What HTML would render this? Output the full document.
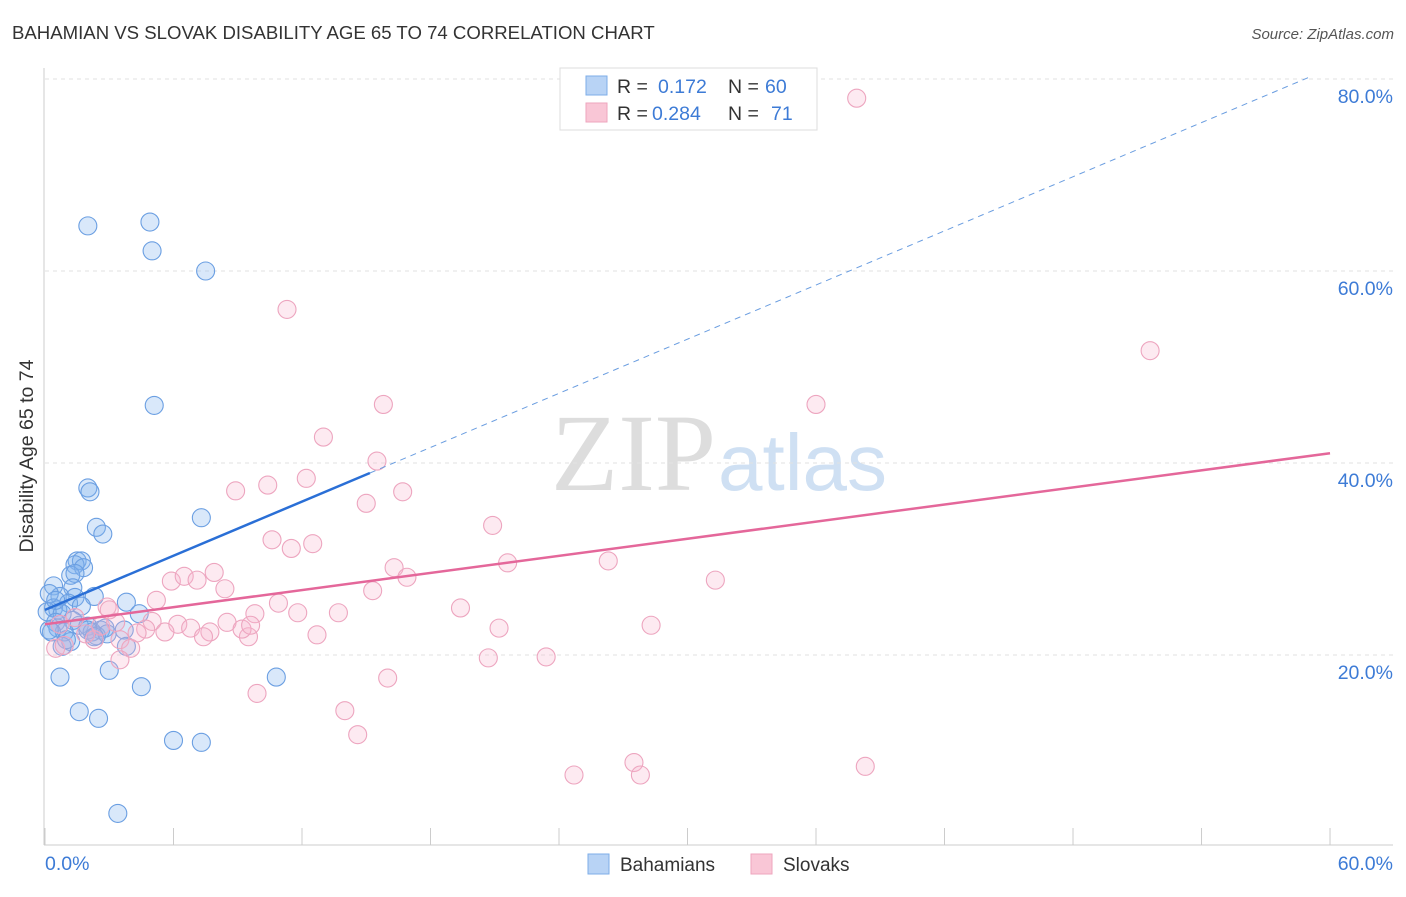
<!DOCTYPE html>
<html><head><meta charset="utf-8"><style>
body{margin:0;background:#fff;font-family:"Liberation Sans",sans-serif;}
</style></head><body>
<svg width="1406" height="892" xmlns="http://www.w3.org/2000/svg">
<text x="12" y="39" font-size="18.6" fill="#333">BAHAMIAN VS SLOVAK DISABILITY AGE 65 TO 74 CORRELATION CHART</text>
<text x="1394" y="39" font-size="15" fill="#555" font-style="italic" text-anchor="end">Source: ZipAtlas.com</text>
<text x="716" y="490" font-size="110" fill="#ddd" font-family="Liberation Serif,serif" text-anchor="end">ZIP</text>
<text x="718" y="490" font-size="80" fill="#cfe0f3">atlas</text>
<g id="grid"></g>
<line x1="44" y1="68" x2="44" y2="845" stroke="#ccc"/>
<line x1="44" y1="845" x2="1393" y2="845" stroke="#ccc"/>
<g id="xticks"></g>
<g id="ylabels"></g>
<text transform="translate(33,456) rotate(-90)" font-size="19.5" fill="#333" text-anchor="middle">Disability Age 65 to 74</text>
<text x="45" y="870" font-size="19.5" fill="#3d7bd6">0.0%</text>
<text x="1393" y="870" font-size="19.5" fill="#3d7bd6" text-anchor="end">60.0%</text>
<g id="pts"></g>
<g id="trends"></g>
<g>
<rect x="560" y="68" width="257" height="62" fill="#fff" stroke="#ddd"/>
<rect x="586" y="76" width="21" height="19" fill="#b8d3f5" stroke="#7eaee8"/>
<rect x="586" y="103" width="21" height="19" fill="#f9c6d6" stroke="#eea5be"/>
<text x="617" y="93" font-size="19.5" fill="#333">R = </text><text x="658" y="93" font-size="19.5" fill="#3d7bd6">0.172</text>
<text x="728" y="93" font-size="19.5" fill="#333">N = </text><text x="765" y="93" font-size="19.5" fill="#3d7bd6">60</text>
<text x="617" y="120" font-size="19.5" fill="#333">R = </text><text x="652" y="120" font-size="19.5" fill="#3d7bd6">0.284</text>
<text x="728" y="120" font-size="19.5" fill="#333">N = </text><text x="771" y="120" font-size="19.5" fill="#3d7bd6">71</text>
</g>
<g>
<rect x="588" y="854" width="21" height="20" fill="#b8d3f5" stroke="#7eaee8"/>
<text x="620" y="871" font-size="19" fill="#333">Bahamians</text>
<rect x="751" y="854" width="21" height="20" fill="#f9c6d6" stroke="#eea5be"/>
<text x="783" y="871" font-size="19" fill="#333">Slovaks</text>
</g>
</svg>
<script>
const yTicks=[20,40,60,80];
const yTickLabels=["20.0%","40.0%","60.0%","80.0%"];
const blueX=[2.0,4.9,5.0,7.5,5.1,2.0,2.1,2.4,2.7,7.3,1.5,1.7,1.4,1.8,1.2,1.4,0.4,1.3,0.7,0.2,1.4,2.3,3.8,1.1,1.7,0.4,0.6,0.1,0.8,4.4,1.3,0.5,1.6,2.0,2.6,2.2,2.8,3.7,0.6,0.9,2.4,2.9,0.3,1.2,0.8,3.8,0.7,3.0,4.5,10.8,1.6,2.5,6.0,7.3,3.4,0.5,1.0,2.0,2.3,0.2];
const blueY=[64.7,65.1,62.1,60.0,46.0,37.4,37.0,33.3,32.6,34.3,29.8,29.8,29.4,29.1,28.3,28.5,27.2,27.0,26.1,26.4,26.0,26.1,25.5,25.4,25.1,24.9,24.7,24.5,24.3,24.3,23.6,23.4,23.1,23.0,22.6,22.4,22.8,22.6,22.8,22.4,22.0,22.2,22.4,21.4,20.9,20.9,17.7,18.4,16.7,17.7,14.1,13.4,11.1,10.9,3.5,25.7,21.6,22.6,21.9,22.6];
const pinkX=[37.9,11.3,51.6,15.8,36.0,13.0,15.5,8.9,10.4,12.2,16.7,15.0,20.9,10.6,11.5,12.5,16.3,16.9,21.6,26.3,31.3,5.9,6.5,7.1,7.9,8.4,5.2,2.9,10.9,11.8,13.7,15.3,19.4,8.5,9.8,5.0,6.2,6.8,7.7,5.6,7.4,9.5,9.2,4.7,4.3,12.7,21.2,28.3,3.5,2.3,4.0,0.5,0.9,1.9,2.6,3.3,20.7,23.4,3.5,9.9,16.0,14.0,14.6,24.7,27.5,27.8,38.3,0.7,1.4,3.0,9.6];
const pinkY=[78.0,56.0,51.7,46.1,46.1,42.7,40.2,37.1,37.7,38.4,37.0,35.8,33.5,32.0,31.1,31.6,29.1,28.1,29.6,29.8,27.8,27.7,28.2,27.8,28.6,26.9,25.7,25.0,25.4,24.4,24.4,26.7,24.9,23.4,24.3,23.5,23.2,22.8,22.4,22.4,21.9,21.9,22.7,22.7,22.3,22.1,22.8,23.1,21.6,21.6,20.7,20.7,21.0,22.2,23.0,23.4,19.7,19.8,19.5,16.0,17.6,14.2,11.7,7.5,8.8,7.5,8.4,23.2,23.9,24.7,23.1];
const blueTrend=[24.7,0.94];
const pinkTrend=[23.2,0.297];
const NS="http://www.w3.org/2000/svg";
const sx=v=>45+v*21.417, sy=v=>847-v*9.6;
function mk(t,a,p){const e=document.createElementNS(NS,t);for(const k in a)e.setAttribute(k,a[k]);p.appendChild(e);return e;}
const grid=document.getElementById('grid'),yl=document.getElementById('ylabels');
yTicks.forEach((t,i)=>{
 const l=mk('line',{x1:45,x2:1393,y1:sy(t),y2:sy(t),stroke:'#e2e2e2','stroke-dasharray':'4,4'},grid);
 
 
 const tx=mk('text',{x:1393,y:sy(t)+24,'font-size':19.5,fill:'#3d7bd6','text-anchor':'end'},yl);
 tx.textContent=yTickLabels[i];
 
 
});
const xt=document.getElementById('xticks');
for(let i=0;i<=10;i++){const x=sx(i*6);const l=mk('line',{x1:x,x2:x,y1:828,y2:845,stroke:'#ccc'},xt);
 
 }
const pts=document.getElementById('pts');
blueX.forEach((x,i)=>{const c=mk('circle',{cx:sx(x),cy:sy(blueY[i]),r:9,fill:'rgba(130,180,240,0.3)',stroke:'#6b9fe2','stroke-width':1.1},pts);
 
 });
pinkX.forEach((x,i)=>{const c=mk('circle',{cx:sx(x),cy:sy(pinkY[i]),r:9,fill:'rgba(248,180,205,0.28)',stroke:'#eda5bf','stroke-width':1.1},pts);
 
 });
const tr=document.getElementById('trends');
const f=(t,x)=>t[0]+t[1]*x;
let a=mk('line',{x1:sx(0),y1:sy(f(blueTrend,0)),x2:sx(15.17),y2:sy(f(blueTrend,15.17)),stroke:'#2a6fd6','stroke-width':2.5},tr);


a=mk('line',{x1:sx(15.17),y1:sy(f(blueTrend,15.17)),x2:sx(59.06),y2:sy(f(blueTrend,59.06)),stroke:'#6a9de0','stroke-width':1,'stroke-dasharray':'6,5'},tr);


a=mk('line',{x1:sx(0),y1:sy(f(pinkTrend,0)),x2:sx(60),y2:sy(f(pinkTrend,60)),stroke:'#e4679a','stroke-width':2.5},tr);


</script>
</body></html>
